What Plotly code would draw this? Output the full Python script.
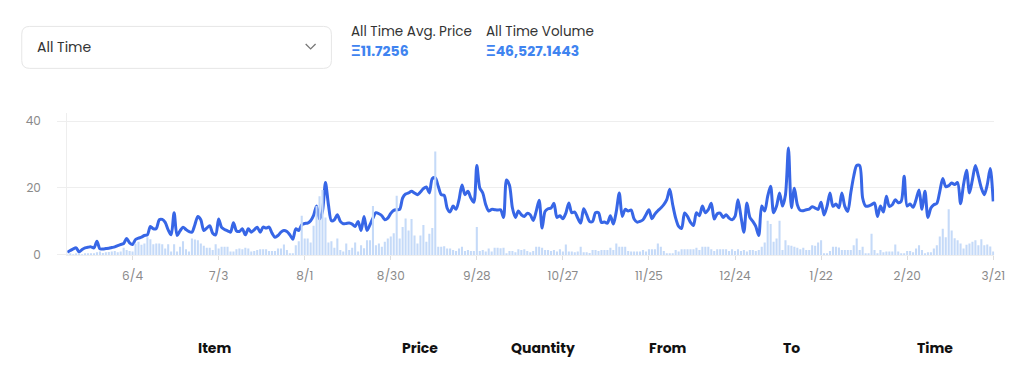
import pandas as pd
import plotly.graph_objects as go

# ---------------- data ----------------
start_date = "2021-05-13"

prices = [
    0.8, 1.3, 1.8, 2.1, 0.9, 1.6, 2.1, 2.3, 2.4, 2.1,
    4.1, 1.8, 1.8, 1.9, 2.0, 2.2, 2.4, 2.8, 3.1, 3.4,
    4.9, 3.6, 3.1, 4.6, 5.0, 5.3, 5.8, 6.0, 8.5, 7.8,
    7.9, 10.5, 10.6, 9.7, 7.5, 6.0, 12.6, 5.8, 7.2, 8.3,
    7.6, 7.0, 6.8, 9.0, 11.5, 10.5, 7.3, 8.0, 8.7, 6.5,
    6.0, 10.7, 8.2, 7.6, 7.2, 6.8, 9.6, 7.2, 7.0, 7.8,
    6.0, 7.8, 6.8, 7.5, 8.3, 6.8, 8.3, 8.0, 8.3, 6.5,
    5.3, 5.8, 6.8, 7.3, 7.0, 6.0, 4.7, 7.8, 7.3, 9.0,
    9.4, 9.5, 10.2, 11.8, 14.6, 10.7, 13.1, 21.6, 15.0, 10.2,
    10.5, 12.0, 10.0, 9.3, 9.4, 9.5, 9.2, 8.5, 10.0, 7.3,
    11.5, 7.3, 9.0, 11.0, 12.6, 12.3, 11.7, 10.5, 11.0, 12.4,
    13.3, 13.5, 13.6, 17.0, 18.2, 18.5, 19.0, 18.5, 18.0, 18.8,
    19.8, 20.3, 18.5, 22.8, 23.0, 20.5, 18.0, 17.8, 14.0, 12.8,
    14.6, 13.6, 16.5, 20.9, 18.0, 19.0, 17.0, 15.7, 26.7, 20.0,
    18.5, 15.0, 13.1, 13.6, 13.5, 13.4, 13.5, 11.2, 22.4, 20.8,
    14.0, 11.2, 13.1, 12.0, 11.5, 12.4, 12.0, 10.3, 13.0, 16.3,
    8.0, 13.0, 13.8, 14.0, 15.4, 11.2, 11.7, 10.8, 12.5, 15.5,
    12.6, 12.8, 11.0, 9.5, 13.8, 12.0, 10.0, 10.0, 12.6, 12.6,
    9.7, 9.8, 9.5, 11.7, 9.2, 13.0, 18.5, 11.5, 13.6, 13.1,
    13.4, 10.7, 9.8, 10.0, 10.5, 12.0, 13.5, 10.8, 12.2, 13.2,
    14.0, 15.0, 16.5, 19.6, 15.0, 11.0, 8.5, 7.9, 12.5, 11.5,
    9.7, 8.8, 12.6, 11.7, 14.6, 12.6, 13.5, 15.4, 10.7, 12.3,
    12.5, 11.2, 12.0, 11.0, 10.5, 11.5, 16.5, 11.5, 6.8, 15.5,
    11.2, 10.0, 8.5, 5.8, 14.6, 13.1, 17.5, 20.5, 12.6, 14.6,
    18.5, 14.6, 18.0, 31.9, 14.1, 19.9, 15.0, 13.3, 13.2, 13.5,
    13.7, 14.4, 14.0, 13.6, 15.7, 11.9, 14.5, 18.5, 14.5, 15.2,
    14.1, 18.5, 14.5, 13.0, 18.5, 23.5, 26.7, 26.7, 17.0, 14.6,
    14.6, 15.0, 15.5, 11.5, 14.6, 12.8, 17.5, 14.5, 15.0, 16.5,
    15.6, 16.0, 23.5, 14.6, 15.2, 14.2, 16.5, 19.4, 13.6, 19.0,
    11.2, 14.0, 15.0, 15.4, 19.0, 22.8, 20.4, 20.7, 21.5, 21.0,
    21.6, 15.3, 21.0, 25.3, 18.5, 22.5, 26.7, 23.5, 20.0, 18.0,
    21.0, 25.8, 16.0,
]

volumes = [
    0.1, 0.2, 0.1, 0.3, 0.2, 0.1, 0.3, 0.2, 0.4, 0.3,
    0.8, 1.0, 0.6, 0.8, 0.9, 1.0, 1.2, 0.8, 1.0, 2.1,
    1.5, 1.2, 1.0, 3.4, 3.9, 3.0, 3.4, 5.3, 4.7, 3.2,
    3.4, 3.4, 3.2, 1.9, 3.2, 1.0, 3.2, 1.0, 2.4, 4.1,
    1.7, 1.0, 4.9, 4.6, 4.4, 3.4, 2.7, 2.1, 2.1, 1.5,
    3.2, 1.9, 2.4, 2.4, 2.4, 1.0, 1.0, 1.7, 1.9, 1.7,
    2.1, 1.9, 1.0, 1.2, 1.5, 1.7, 1.7, 1.7, 1.2, 1.2,
    1.2, 1.9, 1.9, 3.1, 1.5, 0.5, 0.5, 2.9, 4.1, 11.7,
    4.9, 4.9, 3.7, 8.7, 14.6, 17.5, 19.4, 11.2, 3.7, 4.1,
    2.1, 4.9, 1.5, 1.0, 3.4, 1.5, 2.1, 3.7, 1.0, 2.9,
    2.0, 4.4, 4.4, 14.6, 2.9, 3.4, 2.4, 3.9, 4.9, 5.5,
    6.5, 17.7, 4.9, 8.3, 10.9, 7.3, 10.7, 5.8, 3.4, 5.8,
    8.9, 3.9, 6.3, 8.0, 30.9, 2.4, 2.4, 2.6, 1.9, 1.9,
    1.5, 1.2, 1.9, 2.4, 1.2, 1.5, 1.2, 1.2, 8.3, 1.2,
    1.5, 1.0, 1.9, 1.0, 2.1, 2.1, 2.0, 2.1, 0.5, 1.2,
    1.2, 0.8, 1.7, 1.5, 1.7, 1.2, 0.8, 1.2, 2.4, 2.4,
    2.1, 1.5, 1.5, 1.2, 1.5, 1.0, 1.7, 1.0, 3.1, 1.0,
    1.0, 0.8, 1.0, 2.4, 0.8, 0.8, 0.6, 1.5, 1.5, 1.2,
    1.5, 1.5, 1.5, 2.1, 1.5, 3.4, 2.4, 2.4, 2.4, 1.2,
    1.0, 1.0, 1.0, 1.0, 1.5, 1.0, 1.7, 1.7, 1.7, 3.4,
    2.4, 1.2, 0.5, 0.5, 0.5, 1.5, 1.0, 1.7, 1.7, 1.7,
    1.7, 1.7, 2.1, 1.5, 2.4, 2.4, 2.4, 1.7, 1.2, 1.7,
    1.7, 1.7, 1.7, 1.2, 1.7, 1.2, 1.7, 1.2, 1.5, 1.0,
    1.5, 1.5, 1.2, 1.5, 2.4, 3.7, 10.2, 9.2, 3.9, 4.9,
    10.2, 1.5, 4.4, 2.9, 2.7, 2.4, 2.1, 1.7, 2.1, 1.5,
    1.5, 2.9, 2.7, 3.7, 4.4, 0.3, 0.5, 1.2, 2.4, 2.4,
    2.2, 1.5, 1.5, 1.5, 1.5, 2.9, 4.9, 1.5, 2.4, 0.5,
    0.5, 6.3, 1.5, 0.5, 1.5, 0.8, 1.0, 1.0, 1.0, 3.1,
    1.0, 0.5, 0.3, 1.2, 1.2, 0.8, 1.9, 2.9, 1.5, 0.5,
    0.8, 0.8, 1.9, 2.9, 5.5, 7.8, 5.3, 13.6, 7.3, 5.0,
    4.4, 3.4, 1.9, 3.0, 3.4, 3.9, 4.4, 2.9, 4.7, 2.9,
    3.1, 2.5, 1.0,
]

tick_dates = ["2021-06-04", "2021-07-03", "2021-08-01", "2021-08-30", "2021-09-28",
              "2021-10-27", "2021-11-25", "2021-12-24", "2022-01-22", "2022-02-20",
              "2022-03-21"]
tick_labels = ["6/4", "7/3", "8/1", "8/30", "9/28", "10/27", "11/25", "12/24",
               "1/22", "2/20", "3/21"]
y_ticks = [0, 20, 40]

selector_label = "All Time"
stat_titles = ["All Time Avg. Price", "All Time Volume"]
stat_values = ["Ξ11.7256", "Ξ46,527.1443"]
table_headers = ["Item", "Price", "Quantity", "From", "To", "Time"]

# ---------------- figure ----------------
W, H = 1024, 384
n = min(len(prices), len(volumes))
dates = pd.date_range(start_date, periods=n, freq="D")


def px(x):
    return x / W


def py(y):
    return 1 - y / H


FONT = "Poppins, Inter, 'Open Sans', sans-serif"
LINE_BLUE = "#3766E6"
BAR_BLUE = "#C5DAF8"
GRID = "#EEEEEE"

fig = go.Figure()
fig.add_trace(go.Bar(x=dates, y=volumes[:n], marker=dict(color=BAR_BLUE, line=dict(width=0)),
                     yaxis="y2", name="Volume", hoverinfo="skip"))
fig.add_trace(go.Scatter(x=dates, y=prices[:n], mode="lines", name="Avg. Price",
                         line=dict(color=LINE_BLUE, width=3, shape="spline", smoothing=0.8),
                         hoverinfo="skip"))

y_range = [0, 42.3]
fig.update_layout(
    width=W, height=H,
    margin=dict(l=0, r=0, t=0, b=0),
    paper_bgcolor="white", plot_bgcolor="white",
    showlegend=False,
    bargap=0.3,
    font=dict(family=FONT),
    xaxis=dict(
        domain=[px(68), px(1005)],
        range=["2021-05-13", "2022-03-21 08:00"],
        tickmode="array", tickvals=tick_dates, ticktext=tick_labels,
        showgrid=False, zeroline=False,
        showline=True, linecolor=GRID, linewidth=1,
        ticks="outside", ticklen=4, tickcolor="#DDDDDD", tickwidth=1,
        tickfont=dict(size=12, color="#8A8A8A", family=FONT),
        ticklabelstandoff=6,
        fixedrange=True,
    ),
    yaxis=dict(
        domain=[py(260), py(115)],
        range=y_range,
        tickmode="array", tickvals=y_ticks,
        showgrid=True, gridcolor=GRID, gridwidth=1,
        zeroline=False,
        showline=True, linecolor=GRID, linewidth=1,
        ticks="outside", ticklen=9, tickcolor=GRID,
        tickfont=dict(size=12, color="#8A8A8A", family=FONT),
        ticklabelstandoff=14,
        fixedrange=True,
    ),
    yaxis2=dict(
        domain=[py(260), py(115)],
        range=y_range, overlaying="y", visible=False, fixedrange=True,
    ),
)


def rounded_rect(x0, y0, x1, y1, r):
    return (f"M {px(x0 + r)},{py(y0)} L {px(x1 - r)},{py(y0)} "
            f"Q {px(x1)},{py(y0)} {px(x1)},{py(y0 + r)} L {px(x1)},{py(y1 - r)} "
            f"Q {px(x1)},{py(y1)} {px(x1 - r)},{py(y1)} L {px(x0 + r)},{py(y1)} "
            f"Q {px(x0)},{py(y1)} {px(x0)},{py(y1 - r)} L {px(x0)},{py(y0 + r)} "
            f"Q {px(x0)},{py(y0)} {px(x0 + r)},{py(y0)} Z")


# dropdown box with rounded corners and a chevron
fig.add_shape(type="path", xref="paper", yref="paper",
              path=rounded_rect(22, 26, 335, 69, 8),
              line=dict(color="#E6E6E6", width=1), fillcolor="white", layer="below")
fig.add_shape(type="path", xref="paper", yref="paper",
              path=f"M {px(309)},{py(44)} L {px(314)},{py(49)} L {px(319)},{py(44)}",
              line=dict(color="#777777", width=1.3))

annotations = [
    dict(text=selector_label, x=px(35), y=py(47), size=14, color="#333333", bold=False),
    dict(text=stat_titles[0], x=px(353), y=py(31), size=13.5, color="#333333", bold=False),
    dict(text=stat_values[0], x=px(353), y=py(51), size=14, color="#3F84F0", bold=True),
    dict(text=stat_titles[1], x=px(489), y=py(31), size=13.5, color="#333333", bold=False),
    dict(text=stat_values[1], x=px(489), y=py(51), size=14, color="#3F84F0", bold=True),
]
for a in annotations:
    txt = f"<b>{a['text']}</b>" if a["bold"] else a["text"]
    fig.add_annotation(text=txt, x=a["x"], y=a["y"], xref="paper", yref="paper",
                       xanchor="left", yanchor="middle", showarrow=False,
                       font=dict(size=a["size"], color=a["color"], family=FONT))

header_centers = [217, 425, 549, 675, 800, 945]
for label, cx in zip(table_headers, header_centers):
    fig.add_annotation(text=f"<b>{label}</b>", x=px(cx), y=py(355), xref="paper", yref="paper",
                       xanchor="center", yanchor="middle", showarrow=False,
                       font=dict(size=14, color="#111111", family=FONT))

# make the figure fill the browser viewport exactly (no page margin / scrollbars)
page_fix = (
    "document.documentElement.style.cssText='margin:0;padding:0;overflow:hidden;';"
    "document.body.style.cssText='margin:0;padding:0;overflow:hidden;';"
    "var gd=document.getElementById('{plot_id}');"
    "var w=window.innerWidth, h=window.innerHeight;"
    "gd.style.width=w+'px'; gd.style.height=h+'px';"
    "Plotly.relayout(gd,{width:w,height:h});"
)
fig.write_html("out.html", config={"displayModeBar": False}, post_script=page_fix)
